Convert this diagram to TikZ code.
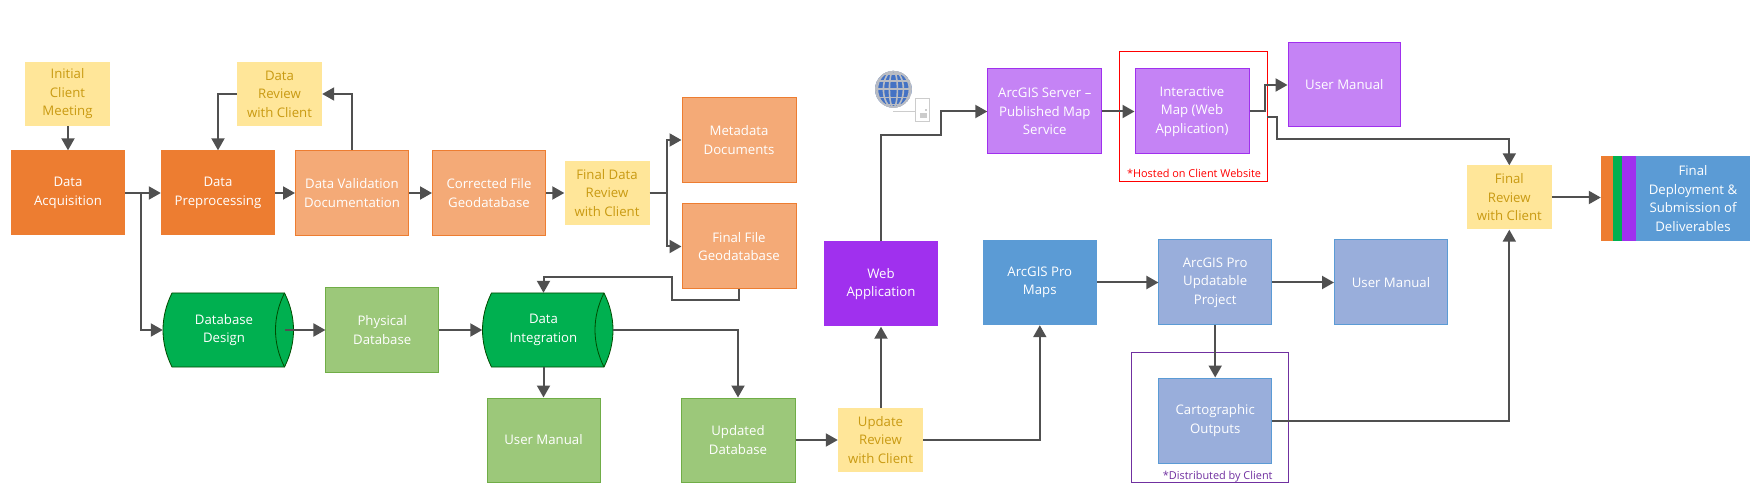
\documentclass[tikz,border=0pt]{standalone}
\usepackage{fontspec}
\usepackage{xcolor}
\usetikzlibrary{arrows.meta}
\setmainfont{Open Sans}
\definecolor{lineg}{HTML}{505050}
\definecolor{orangef}{HTML}{ED7D31}
\definecolor{orangel}{HTML}{F4AA77}
\definecolor{yellowf}{HTML}{FFE699}
\definecolor{yellowt}{HTML}{C99A12}
\definecolor{greenf}{HTML}{00B050}
\definecolor{greenl}{HTML}{9CC87A}
\definecolor{greene}{HTML}{70AD47}
\definecolor{purplef}{HTML}{A030EE}
\definecolor{purplel}{HTML}{C583F5}
\definecolor{bluef}{HTML}{5B9BD5}
\definecolor{bluel}{HTML}{99AEDB}
\definecolor{violete}{HTML}{7030A0}
\definecolor{globet}{HTML}{4472C4}
\definecolor{globeg}{HTML}{B9BCC3}
\tikzset{flow/.style={-{Triangle[length=12pt,width=13pt]},line width=2pt,lineg}}
\tikzset{textpad/.style={execute at begin node={\\[#1]}}}
\tikzset{nopad/.style={execute at begin node={}}}
\tikzset{basebox/.style={rectangle,align=center,text=white,inner sep=0pt,minimum width=114pt,minimum height=85pt,font=\fontsize{13.2}{18.5}\selectfont,textpad=-13.5pt}}
\tikzset{orangebox/.style={basebox,fill=orangef}}
\tikzset{orangeedge/.style={basebox,fill=orangel,draw=orangef,line width=1pt}}
\tikzset{reviewbox/.style={basebox,fill=yellowf,text=yellowt,minimum width=85pt,minimum height=64pt}}
\tikzset{greenbox/.style={basebox,fill=greenl,draw=greene,line width=1pt}}
\tikzset{purplebox/.style={basebox,fill=purplel,draw=purplef,line width=1pt,textpad=-16pt}}
\tikzset{bluebox/.style={basebox,fill=bluel,draw=bluef,line width=1pt}}
\tikzset{drumbox/.style={basebox,minimum width=122pt,minimum height=74pt}}
\tikzset{drumline/.style={fill=greenf,draw=green!30!black,line width=0.8pt}}
\tikzset{framebox/.style={rectangle,draw,line width=1pt,inner sep=0pt}}
\tikzset{notetext/.style={inner sep=0pt,font=\fontsize{10.9}{12}\selectfont}}
\tikzset{stripebox/.style={rectangle,inner sep=0pt,minimum height=85pt}}
\newcommand{\drumshape}[1]{%
  \draw[drumline] (#1) ++(-52,-37) -- ++(112.5,0) .. controls +(12,24) and +(12,-24) .. ++(0,74)
    -- ++(-112.5,0) .. controls +(-12,-24) and +(-12,24) .. ++(0,-74) -- cycle;
  \draw[drumline,fill=none] (#1) ++(60.5,-37) .. controls +(-12,24) and +(-12,-24) .. ++(0,74);}
\begin{document}
\begin{tikzpicture}[x=1pt,y=-1pt]
    \useasboundingbox (0,0) rectangle (1759,494);
    % frames behind the boxes
    \node[framebox,draw=red,minimum width=148pt,minimum height=130pt] (hostframe) at (1193.6,117) {};
    \node[framebox,draw=violete,minimum width=157pt,minimum height=130pt] (distframe) at (1210,417) {};
    % first row
    \node[reviewbox] (initial) at (67.5,94) {Initial\\Client\\Meeting};
    \node[reviewbox] (datareview) at (279.5,94) {Data\\Review\\with Client};
    \node[orangebox] (acq) at (68,193) {Data\\Acquisition};
    \node[orangebox] (prep) at (218,193) {Data\\Preprocessing};
    \node[orangeedge,minimum width=113pt] (valid) at (352,193) {Data Validation\\Documentation};
    \node[orangeedge,minimum width=113pt] (corrected) at (489,193) {Corrected File\\Geodatabase};
    \node[reviewbox] (finalreview) at (607,193) {Final Data\\Review\\with Client};
    \node[orangeedge] (metadata) at (739,140) {Metadata\\Documents};
    \node[orangeedge] (finalfile) at (739,246.5) {Final File\\Geodatabase};
    % database row
    \drumshape{224,330}
    \node[drumbox] (dbdesign) at (224,330) {Database\\Design};
    \node[greenbox,minimum width=112.5pt] (physical) at (382.2,330) {Physical\\Database};
    \drumshape{543.5,330}
    \node[drumbox] (integration) at (543.5,330) {Data\\Integration};
    \node[greenbox,minimum width=113pt,minimum height=84pt] (manualgreen) at (543.5,440) {User Manual};
    \node[greenbox,minimum height=84pt] (updated) at (738,440) {Updated\\Database};
    \node[reviewbox] (updatereview) at (880.5,440) {Update\\Review\\with Client};
    % web application
    \node[basebox,fill=purplef] (webapp) at (881,284) {Web\\Application};
    \node[purplebox] (server) at (1044.8,111.5) {ArcGIS Server --\\Published Map\\Service};
    \node[purplebox] (interactive) at (1192,111.5) {Interactive\\Map (Web\\Application)};
    \node[purplebox,nopad,minimum width=112.5pt,minimum height=84pt] (manualpurple) at (1344.3,85) {User Manual};
    \node[notetext,text=red] (hostnote) at (1194,173) {*Hosted on Client Website};
    % arcgis pro
    \node[basebox,fill=bluef] (promaps) at (1039.8,282.5) {ArcGIS Pro\\Maps};
    \node[bluebox,minimum width=112.5pt] (proproject) at (1215.2,282.5) {ArcGIS Pro\\Updatable\\Project};
    \node[bluebox,nopad,minimum width=113pt] (manualblue) at (1391,282.5) {User Manual};
    \node[bluebox,minimum width=113pt] (carto) at (1215.2,420.5) {Cartographic\\Outputs};
    \node[notetext,text=violete] (distnote) at (1217.7,477) {*Distributed by Client};
    % final review and deployment
    \node[reviewbox,minimum width=85.5pt] (lastreview) at (1509.3,197.5) {Final\\Review\\with Client};
    \node[stripebox,fill=orangef,minimum width=12pt] (stripea) at (1607,198.5) {};
    \node[stripebox,fill=greenf,minimum width=9.5pt] (stripeb) at (1617.8,198.5) {};
    \node[stripebox,fill=purplef,minimum width=13.5pt] (stripec) at (1629.2,198.5) {};
    \node[basebox,nopad,fill=bluef] (deploy) at (1693,198.5) {Final\\Deployment \&\\Submission of\\Deliverables};
    % draw the globe and the page
    \begin{scope}
        \clip (893.4,89.3) circle (18.4);
        \fill[globet] (893.4,89.3) circle (18.4);
        \foreach \w in {4,10,16}
            \draw[globeg,line width=1.6pt] (893.4,89.3) ellipse (\w pt and 18.4pt);
        \foreach \h in {74,81,89.3,97.6,104.6}
            \draw[globeg,line width=1.6pt] (875,\h) -- (912,\h);
        \draw[globeg,line width=2.4pt] (893.4,89.3) circle (18);
    \end{scope}
    \draw[gray!40,line width=1pt] (893.4,111.3) -- (915.3,111.3);
    \draw[gray!40,line width=1pt] (915.3,98.3) rectangle (929.8,121.3);
    \fill[gray!40] (920,113) rectangle (927,118);
    \fill[gray!40] (925,109) rectangle (927,111);
    % turning points of the connectors
    \coordinate (acqturn) at (141,193);
    \coordinate (reviewturn) at (666.5,193);
    \coordinate (fileturn) at (671.7,300);
    \coordinate (fileup) at (671.7,276.7);
    \coordinate (webturn) at (881,135);
    \coordinate (webup) at (941,135);
    \coordinate (hostout) at (1267,117);
    \coordinate (hostturn) at (1277,138.7);
    \coordinate (interturn) at (1264.8,111.5);
    % draw the connectors
    \draw[flow] (acq.north |- initial.south) -- (acq.north);
    \draw[flow] (acq) -- (prep);
    \draw[flow] (acqturn) |- (dbdesign.west);
    \draw[flow] (prep) -- (valid);
    \draw[flow] (valid) -- (corrected);
    \draw[flow] (corrected) -- (finalreview);
    \draw[flow] (valid.north) |- (datareview.east);
    \draw[flow] (datareview.west) -| (prep.north);
    \draw[flow] (finalreview.east) -- (reviewturn) |- (metadata.west);
    \draw[flow] (reviewturn) |- (finalfile.west);
    \draw[flow] (finalfile.south) |- (fileturn) -- (fileup) -| (integration.north);
    \draw[flow] (dbdesign.east) -- (physical.west);
    \draw[flow] (physical.east) -- (integration.west);
    \draw[flow] ([xshift=8.7pt]integration.east) -| (updated.north);
    \draw[flow] (integration.south) -- (manualgreen.north);
    \draw[flow] (updated.east) -- (updatereview.west);
    \draw[flow] (webapp.south |- updatereview.north) -- (webapp.south);
    \draw[flow] (updatereview.east) -| (promaps.south);
    \draw[flow] (webapp.north) -- (webturn) -- (webup) |- (server.west);
    \draw[flow] (server) -- (interactive);
    \draw[flow] (interactive.east) -- (interturn) |- (manualpurple.west);
    \draw[flow] (hostout) -| (hostturn) -| (lastreview.north);
    \draw[flow] (promaps.east) -- (proproject.west);
    \draw[flow] (proproject.east) -- (manualblue.west);
    \draw[flow] (proproject.south) -- (carto.north);
    \draw[flow] (carto.east) -| (lastreview.south);
    \draw[flow] (stripea.west |- lastreview.east) ++(-49,0) -- (stripea.west |- lastreview.east);
\end{tikzpicture}
\end{document}
